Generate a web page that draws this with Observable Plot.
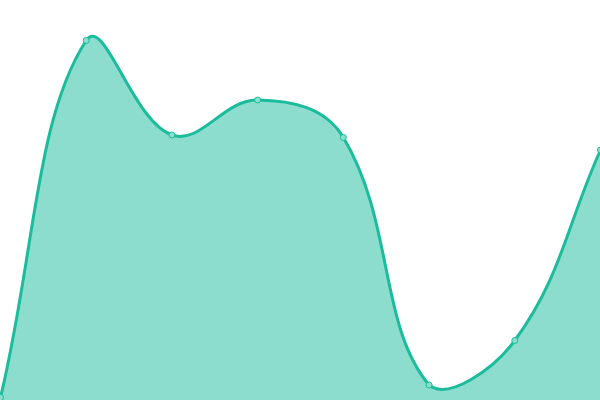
<!DOCTYPE html>
<html><head><meta charset="utf-8">
<script src="https://cdn.jsdelivr.net/npm/d3@7"></script>
<script src="https://cdn.jsdelivr.net/npm/@observablehq/plot@0.6"></script>
<style>html,body{margin:0;padding:0;background:#fff;overflow:hidden}</style>
</head><body><div id="chart"></div>
<script>
const labels = [0, 1, 2, 3, 4, 5, 6, 7];
const values = [3, 360, 265.5, 300.5, 263, 15.5, 60, 250.5];
const data = labels.map((x, i) => ({x, y: values[i]}));

// Tension-based bezier spline (control points from neighbours, capped to the plot area)
const TENSION = 0.4, W = 600, H = 400;
class TensionCurve {
  constructor(ctx) { this._context = ctx; this._area = false; }
  areaStart() { this._area = true; this._first = true; }
  areaEnd() { this._context.closePath(); this._area = false; }
  lineStart() { this._pts = []; }
  point(x, y) { this._pts.push([+x, +y]); }
  lineEnd() {
    const p = this._pts, c = this._context, n = p.length;
    if (!n) return;
    if (this._area && !this._first) c.lineTo(p[0][0], p[0][1]); else c.moveTo(p[0][0], p[0][1]);
    if (this._area) this._first = false;
    if (n === 1) return;
    const cp = p.map((cur, i) => {
      const prev = p[Math.max(i - 1, 0)], next = p[Math.min(i + 1, n - 1)];
      const d01 = Math.hypot(cur[0] - prev[0], cur[1] - prev[1]);
      const d12 = Math.hypot(next[0] - cur[0], next[1] - cur[1]);
      let s01 = d01 / (d01 + d12), s12 = d12 / (d01 + d12);
      if (isNaN(s01)) s01 = 0; if (isNaN(s12)) s12 = 0;
      const fa = TENSION * s01, fb = TENSION * s12;
      const cap = (v, lo, hi) => Math.max(Math.min(v, hi), lo);
      return {
        pr: [cap(cur[0] - fa * (next[0] - prev[0]), 0, W), cap(cur[1] - fa * (next[1] - prev[1]), 0, H)],
        nx: [cap(cur[0] + fb * (next[0] - prev[0]), 0, W), cap(cur[1] + fb * (next[1] - prev[1]), 0, H)]
      };
    });
    for (let i = 1; i < n; i++) {
      c.bezierCurveTo(cp[i - 1].nx[0], cp[i - 1].nx[1], cp[i].pr[0], cp[i].pr[1], p[i][0], p[i][1]);
    }
  }
}
const tensionCurve = ctx => new TensionCurve(ctx);

const chart = Plot.plot({
  width: 600, height: 400,
  margin: 0,
  x: {domain: [0, 7], range: [0, 600], axis: null},
  y: {domain: [0, 400], range: [400, 0], axis: null},
  marks: [
    Plot.areaY(data, {x: "x", y: "y", curve: tensionCurve, fill: "#1abc9c", fillOpacity: 0.5}),
    Plot.lineY(data, {x: "x", y: "y", curve: tensionCurve, stroke: "#1abc9c", strokeWidth: 3}),
    Plot.dot(data, {x: "x", y: "y", r: 3, fill: "#8be0cc", stroke: "#1abc9c", strokeWidth: 1})
  ]
});
document.getElementById("chart").append(chart);
</script></body></html>
